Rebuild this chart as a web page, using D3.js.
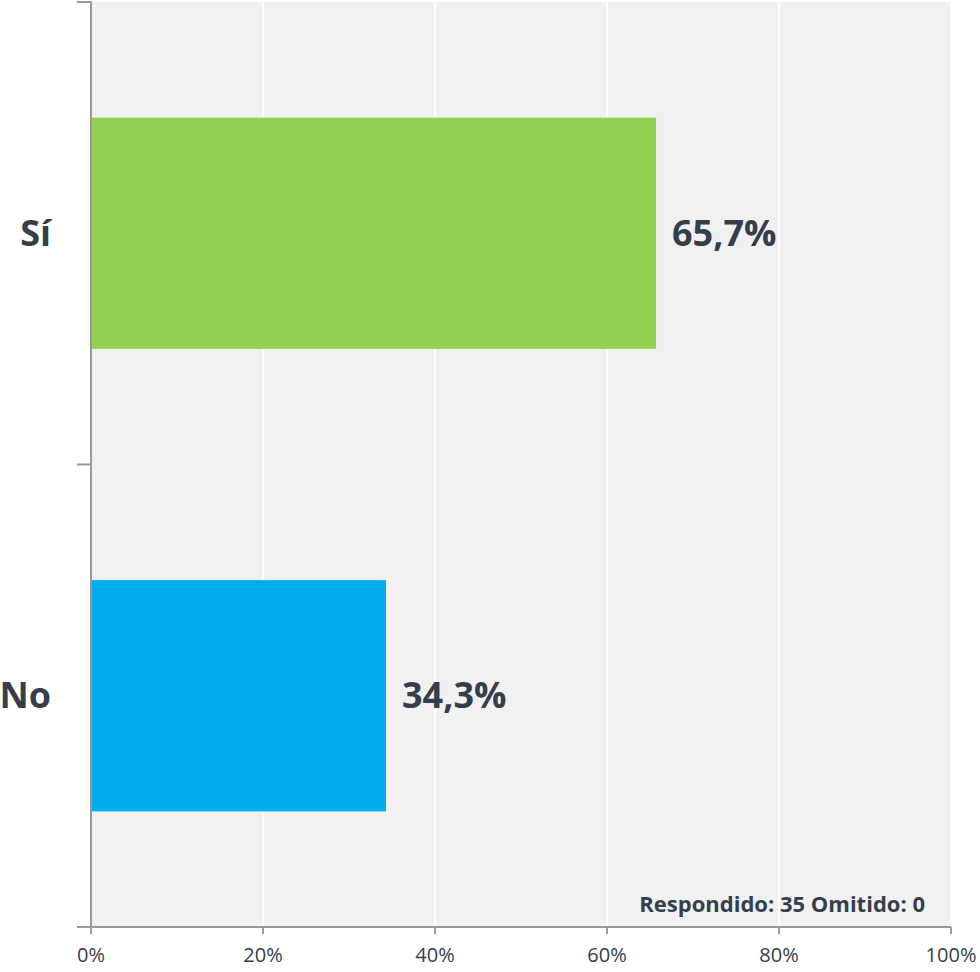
<!DOCTYPE html>
<html><head><meta charset="utf-8">
<script src="https://cdn.jsdelivr.net/npm/d3@7"></script>
<style>body{margin:0;background:#fff}svg{display:block}text{font-family:"Open Sans",sans-serif;fill:#343f4b}</style>
</head><body><svg id="c" width="980" height="972"></svg>
<script>
const categories = ["Sí", "No"];
const values = [65.7, 34.3];
const valueLabels = ["65,7%", "34,3%"];
const colors = ["#93d150", "#00aeef"];
const xTicks = [0, 20, 40, 60, 80, 100];
const footer = "Respondido: 35 Omitido: 0";

const svg = d3.select("#c");
const L = 91, R = 951, T = 2, B = 927;
const x = d3.scaleLinear().domain([0, 100]).range([L, R]);
const y = d3.scaleBand().domain(categories).range([T, B]).padding(0);
const barH = y.bandwidth() * 0.5;

svg.append("rect").attr("x", L).attr("y", T).attr("width", R - L).attr("height", B - T).attr("fill", "#f1f1f1");

svg.append("g").selectAll("line").data(xTicks.slice(1)).join("line")
  .attr("x1", d => x(d)).attr("x2", d => x(d)).attr("y1", T).attr("y2", B)
  .attr("stroke", "#fff").attr("stroke-width", 2);

svg.append("g").selectAll("rect").data(categories).join("rect")
  .attr("x", L).attr("y", d => y(d) + (y.bandwidth() - barH) / 2)
  .attr("width", (d, i) => x(values[i]) - L).attr("height", barH)
  .attr("fill", (d, i) => colors[i]);

svg.append("g").selectAll("text").data(categories).join("text")
  .attr("x", (d, i) => x(values[i]) + 16).attr("y", d => y(d) + y.bandwidth() / 2)
  .attr("dy", "0.35em").attr("font-size", 36).attr("font-weight", 700)
  .text((d, i) => valueLabels[i]);

// left axis
const ly = svg.append("g").attr("transform", `translate(${L},0)`);
ly.append("line").attr("x1", 0).attr("x2", 0).attr("y1", T - 1).attr("y2", B + 7).attr("stroke", "#999").attr("stroke-width", 2);
const bounds = [T, ...categories.slice(1).map(c => y(c)), B];
ly.selectAll(".tk").data(bounds).join("line").attr("class", "tk")
  .attr("x1", -14).attr("x2", 0).attr("y1", d => d).attr("y2", d => d)
  .attr("stroke", "#999").attr("stroke-width", 2);
ly.selectAll("text").data(categories).join("text")
  .attr("x", -40).attr("y", d => y(d) + y.bandwidth() / 2).attr("dy", "0.35em")
  .attr("text-anchor", "end").attr("font-size", 36).attr("font-weight", 700).text(d => d);

// bottom axis
const bx = svg.append("g").attr("transform", `translate(0,${B})`);
bx.append("line").attr("x1", L - 14).attr("x2", R).attr("y1", 0).attr("y2", 0).attr("stroke", "#999").attr("stroke-width", 2);
bx.selectAll(".tk").data(xTicks).join("line").attr("class", "tk")
  .attr("x1", d => x(d)).attr("x2", d => x(d)).attr("y1", 0).attr("y2", 7)
  .attr("stroke", "#999").attr("stroke-width", 2);
bx.selectAll("text").data(xTicks).join("text")
  .attr("x", d => x(d)).attr("y", 35).attr("text-anchor", "middle")
  .attr("font-size", 20).text(d => d + "%");

svg.append("text").attr("x", 925).attr("y", 912).attr("text-anchor", "end")
  .attr("font-size", 22).attr("font-weight", 700).text(footer);
</script></body></html>
